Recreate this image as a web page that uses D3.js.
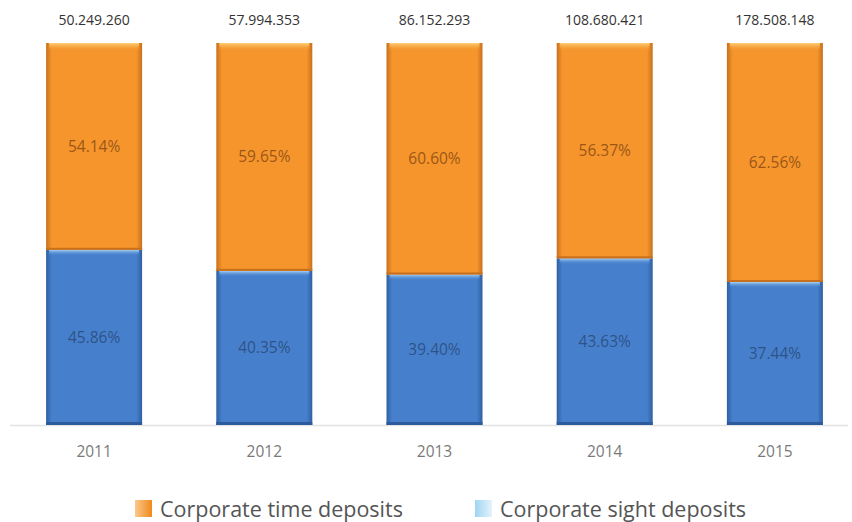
<!DOCTYPE html>
<html>
<head>
<meta charset="utf-8">
<script src="https://cdn.jsdelivr.net/npm/d3@7/dist/d3.min.js"></script>
<style>
  html, body { margin: 0; padding: 0; background: #ffffff; }
  svg { display: block; }
</style>
</head>
<body>
<svg id="chart" width="852" height="522"></svg>
<script>
// Corporate deposits by year: totals and share split between time and sight deposits
const years = ["2011", "2012", "2013", "2014", "2015"];
const totalLabels = ["50.249.260", "57.994.353", "86.152.293", "108.680.421", "178.508.148"];
const timeShare = [54.14, 59.65, 60.60, 56.37, 62.56];
const sightShare = [45.86, 40.35, 39.40, 43.63, 37.44];
const seriesNames = ["Corporate time deposits", "Corporate sight deposits"];

const svg = d3.select("#chart");
const defs = svg.append("defs");

// Horizontal shading so each bar reads as slightly rounded
function barGradient(id, edge, mid) {
  const g = defs.append("linearGradient").attr("id", id)
    .attr("x1", "0").attr("x2", "1").attr("y1", "0").attr("y2", "0");
  g.append("stop").attr("offset", "0%").attr("stop-color", edge);
  g.append("stop").attr("offset", "6%").attr("stop-color", mid);
  g.append("stop").attr("offset", "94%").attr("stop-color", mid);
  g.append("stop").attr("offset", "100%").attr("stop-color", edge);
}
barGradient("gradTime", "#c8701c", "#f5952c");
barGradient("gradSight", "#2f5fa3", "#4680cc");

function topGlow(id, light, base) {
  const g = defs.append("linearGradient").attr("id", id)
    .attr("x1", "0").attr("x2", "0").attr("y1", "0").attr("y2", "1");
  g.append("stop").attr("offset", "0%").attr("stop-color", light);
  g.append("stop").attr("offset", "100%").attr("stop-color", base).attr("stop-opacity", 0);
}
topGlow("glowTime", "#ffd27a", "#f5952c");
topGlow("glowSight", "#a9d3f5", "#4680cc");

// Legend swatch gradients
const lgT = defs.append("linearGradient").attr("id", "legTime");
lgT.append("stop").attr("offset", "0%").attr("stop-color", "#fbc88a");
lgT.append("stop").attr("offset", "100%").attr("stop-color", "#f08a1c");
const lgS = defs.append("linearGradient").attr("id", "legSight");
lgS.append("stop").attr("offset", "0%").attr("stop-color", "#9fd5f2");
lgS.append("stop").attr("offset", "100%").attr("stop-color", "#e4f3fc");

const x = d3.scaleBand().domain(years).range([9, 860]).paddingInner(0.436).paddingOuter(0.218);
const y = d3.scaleLinear().domain([0, 100]).range([425, 43]);

// Baseline
const xAxis = d3.axisBottom(x).tickSize(0).tickPadding(20);
const axisG = svg.append("g").attr("transform", "translate(0,425.5)").call(xAxis);
axisG.select(".domain").attr("d", "M10,0H848").attr("stroke", "#e2e2e2").attr("stroke-width", 1.5);
axisG.selectAll("text")
  .attr("font-family", "'Open Sans', sans-serif")
  .attr("font-size", 15.5)
  .attr("fill", "#7a7a7a");

const rows = years.map((yr, i) => ({ yr, sight: sightShare[i], time: timeShare[i], total: totalLabels[i] }));

const bars = svg.append("g").selectAll("g").data(rows).join("g");

// Sight deposits (bottom segment)
bars.append("rect")
  .attr("x", d => x(d.yr))
  .attr("width", x.bandwidth())
  .attr("y", d => y(d.sight))
  .attr("height", d => y(0) - y(d.sight))
  .attr("fill", "url(#gradSight)");
bars.append("rect")
  .attr("x", d => x(d.yr) + 3)
  .attr("width", x.bandwidth() - 6)
  .attr("y", d => y(d.sight))
  .attr("height", 6)
  .attr("fill", "url(#glowSight)");
bars.append("rect")
  .attr("x", d => x(d.yr))
  .attr("width", x.bandwidth())
  .attr("y", y(0) - 3)
  .attr("height", 3)
  .attr("fill", "#2c5a9c");

// Time deposits (upper segment)
bars.append("rect")
  .attr("x", d => x(d.yr))
  .attr("width", x.bandwidth())
  .attr("y", d => y(d.sight + d.time))
  .attr("height", d => y(d.sight) - y(d.sight + d.time))
  .attr("fill", "url(#gradTime)");
bars.append("rect")
  .attr("x", d => x(d.yr) + 3)
  .attr("width", x.bandwidth() - 6)
  .attr("y", d => y(d.sight + d.time))
  .attr("height", 8)
  .attr("fill", "url(#glowTime)");
bars.append("rect")
  .attr("x", d => x(d.yr))
  .attr("width", x.bandwidth())
  .attr("y", d => y(d.sight) - 2)
  .attr("height", 2)
  .attr("fill", "#c86f1e");

// Percentage labels
const pctFont = "'Open Sans', sans-serif";
bars.append("text")
  .attr("x", d => x(d.yr) + x.bandwidth() / 2)
  .attr("y", d => (y(d.sight) + y(d.sight + d.time)) / 2)
  .attr("dy", "0.35em")
  .attr("text-anchor", "middle")
  .attr("font-family", pctFont)
  .attr("font-size", 15.5)
  .attr("fill", "#8a4a12")
  .attr("fill-opacity", 0.85)
  .text(d => d.time.toFixed(2) + "%");
bars.append("text")
  .attr("x", d => x(d.yr) + x.bandwidth() / 2)
  .attr("y", d => (y(0) + y(d.sight)) / 2)
  .attr("dy", "0.35em")
  .attr("text-anchor", "middle")
  .attr("font-family", pctFont)
  .attr("font-size", 15.5)
  .attr("fill", "#2a4a7a")
  .attr("fill-opacity", 0.85)
  .text(d => d.sight.toFixed(2) + "%");

// Totals above each bar
bars.append("text")
  .attr("x", d => x(d.yr) + x.bandwidth() / 2)
  .attr("y", d => y(d.sight + d.time) - 18)
  .attr("text-anchor", "middle")
  .attr("font-family", pctFont)
  .attr("font-size", 14)
  .attr("fill", "#333333")
  .text(d => d.total);

// Legend
const legend = svg.append("g").attr("font-family", "'Open Sans', sans-serif");
const legendItems = [
  { name: seriesNames[0], fill: "url(#legTime)", x: 135 },
  { name: seriesNames[1], fill: "url(#legSight)", x: 475 }
];
const li = legend.selectAll("g").data(legendItems).join("g")
  .attr("transform", d => `translate(${d.x},500)`);
li.append("rect").attr("width", 17).attr("height", 17).attr("fill", d => d.fill);
li.append("text")
  .attr("x", 25).attr("y", 9).attr("dy", "0.36em")
  .attr("font-size", 21.5)
  .attr("fill", "#555555")
  .text(d => d.name);
</script>
</body>
</html>
